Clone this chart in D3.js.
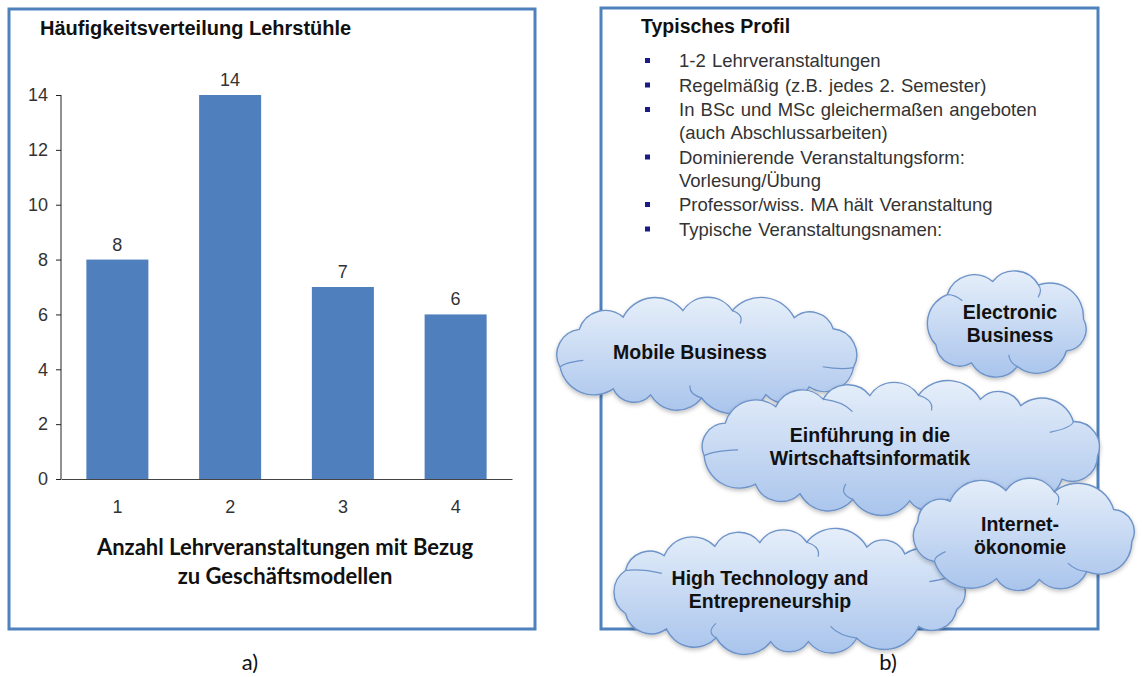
<!DOCTYPE html>
<html>
<head>
<meta charset="utf-8">
<script src="https://cdn.jsdelivr.net/npm/d3@7"></script>
<style>
  body { margin: 0; background: #fff; }
  text { font-family: Arial, "Liberation Sans", sans-serif; }
</style>
</head>
<body>
<div id="chart"></div>
<script>
// data
const categories = ["1", "2", "3", "4"];
const counts = [8, 14, 7, 6];
const yTicks = [0, 2, 4, 6, 8, 10, 12, 14];
const chartTitle = "Häufigkeitsverteilung Lehrstühle";
const xTitleLines = ["Anzahl Lehrveranstaltungen mit Bezug", "zu Geschäftsmodellen"];
const profileTitle = "Typisches Profil";
const profileItems = [
  ["1-2 Lehrveranstaltungen"],
  ["Regelmäßig (z.B.  jedes 2. Semester)"],
  ["In BSc und MSc gleichermaßen angeboten", "(auch Abschlussarbeiten)"],
  ["Dominierende Veranstaltungsform:", "Vorlesung/Übung"],
  ["Professor/wiss. MA hält Veranstaltung"],
  ["Typische Veranstaltungsnamen:"]
];
const courseNames = [
  ["Mobile Business"],
  ["Electronic", "Business"],
  ["Einführung in die", "Wirtschaftsinformatik"],
  ["High Technology and", "Entrepreneurship"],
  ["Internet-", "ökonomie"]
];
const panelLabels = ["a)", "b)"];

// layout of the clouds (ellipse under the bumps + text centre)
const cloudLayout = [
  { cx: 707, cy: 354, rx: 154, ry: 44, tx: 690, ty: 352 },
  { cx: 1005, cy: 324, rx: 79, ry: 43, tx: 1010, ty: 323 },
  { cx: 901, cy: 448, rx: 199, ry: 53, tx: 870, ty: 446 },
  { cx: 788, cy: 592, rx: 180, ry: 50, tx: 770, ty: 589 },
  { cx: 1023, cy: 535, rx: 110, ry: 45, tx: 1020, ty: 535 }
];

const W = 1142, H = 677;
const blue = "#4f81bd";

const svg = d3.select("#chart").append("svg")
  .attr("width", W).attr("height", H);

const defs = svg.append("defs");
const grad = defs.append("linearGradient").attr("id", "cloudFill")
  .attr("x1", 0).attr("y1", 0).attr("x2", 0).attr("y2", 1);
grad.append("stop").attr("offset", "0%").attr("stop-color", "#e6effa");
grad.append("stop").attr("offset", "100%").attr("stop-color", "#a9c4ec");
const shadow = defs.append("filter").attr("id", "shadow")
  .attr("x", "-10%").attr("y", "-10%").attr("width", "120%").attr("height", "130%");
shadow.append("feDropShadow").attr("dx", 0).attr("dy", 2)
  .attr("stdDeviation", 2).attr("flood-color", "#000").attr("flood-opacity", 0.25);

// ---------- panel a) ----------
svg.append("rect").attr("x", 9).attr("y", 9).attr("width", 526).attr("height", 620)
  .attr("fill", "none").attr("stroke", blue).attr("stroke-width", 3);

svg.append("text").attr("x", 40).attr("y", 35)
  .style("font-size", "20px").style("font-weight", "bold").attr("fill", "#111")
  .text(chartTitle);

const x = d3.scaleBand().domain(categories).range([61, 512])
  .paddingInner(0.45).paddingOuter(0.225);
const y = d3.scaleLinear().domain([0, 14]).range([479, 95]);

svg.append("g").selectAll("rect")
  .data(counts)
  .join("rect")
  .attr("x", (d, i) => x(categories[i]))
  .attr("y", d => y(d))
  .attr("width", x.bandwidth())
  .attr("height", d => y(0) - y(d))
  .attr("fill", "#4f7fbd");

svg.append("g").selectAll("text")
  .data(counts)
  .join("text")
  .attr("x", (d, i) => x(categories[i]) + x.bandwidth() / 2)
  .attr("y", d => y(d) - 9)
  .attr("text-anchor", "middle")
  .style("font-size", "18px").attr("fill", "#333")
  .text(d => d);

const yAxis = svg.append("g").attr("transform", "translate(61,0)")
  .call(d3.axisLeft(y).tickValues(yTicks).tickSize(5).tickPadding(8));
yAxis.select(".domain").attr("stroke", "#222").attr("d", `M0,${y(14)}V${y(0)}`);
yAxis.selectAll(".tick line").attr("stroke", "#222");
yAxis.selectAll(".tick text").style("font-size", "18px")
  .style("font-family", "Arial, 'Liberation Sans', sans-serif").attr("fill", "#333");

const xAxis = svg.append("g").attr("transform", `translate(0,${y(0)})`)
  .call(d3.axisBottom(x).tickSize(0).tickPadding(21));
xAxis.select(".domain").attr("stroke", "#444");
xAxis.selectAll(".tick text").style("font-size", "18px")
  .style("font-family", "Arial, 'Liberation Sans', sans-serif").attr("fill", "#333");

svg.append("g").selectAll("text")
  .data(xTitleLines)
  .join("text")
  .attr("x", 285)
  .attr("y", (d, i) => 555 + i * 29)
  .attr("text-anchor", "middle")
  .style("font-family", "Lato, 'Open Sans', sans-serif")
  .style("font-size", "22px").style("font-weight", "bold").attr("fill", "#111")
  .text(d => d);

// ---------- panel b) ----------
svg.append("rect").attr("x", 601).attr("y", 8).attr("width", 497).attr("height", 621)
  .attr("fill", "none").attr("stroke", blue).attr("stroke-width", 3);

svg.append("text").attr("x", 641).attr("y", 33)
  .style("font-size", "19.5px").style("font-weight", "bold").attr("fill", "#111")
  .text(profileTitle);

// bullet list
let yLine = 67;
const lines = [];
profileItems.forEach(item => {
  item.forEach((t, j) => {
    lines.push({ text: t, y: yLine, first: j === 0 });
    yLine += 23;
  });
  yLine += 1.5;
});
const list = svg.append("g");
list.selectAll("rect")
  .data(lines.filter(d => d.first))
  .join("rect")
  .attr("x", 645).attr("y", d => d.y - 9)
  .attr("width", 5).attr("height", 5)
  .attr("fill", "#1b1b86");
list.selectAll("text")
  .data(lines)
  .join("text")
  .attr("x", 679).attr("y", d => d.y)
  .style("font-size", "18.5px").style("word-spacing", "1px").attr("fill", "#333")
  .text(d => d.text);

// cloud outline: bumps spread along the ellipse by arc length
const bumpWeights = [1, 1.3, 0.85, 1.15, 1, 0.9, 1.35, 1.05, 0.8, 1.2, 1.1, 0.95, 1.25, 0.9, 1.1, 1];
function ellipsePoints(c) {
  const n = 720, pts = [], len = [0];
  for (let k = 0; k <= n; k++) {
    const a = -Math.PI * 0.55 + (k / n) * 2 * Math.PI;
    pts.push([c.cx + c.rx * Math.cos(a), c.cy + c.ry * Math.sin(a), a]);
    if (k > 0) len.push(len[k - 1] + Math.hypot(pts[k][0] - pts[k - 1][0], pts[k][1] - pts[k - 1][1]));
  }
  return { pts, len };
}
function bumpPoints(c) {
  const { pts, len } = ellipsePoints(c);
  const total = len[len.length - 1];
  const count = Math.max(8, Math.round(total / 50));
  const w = d3.range(count).map(i => bumpWeights[i % bumpWeights.length]);
  const sum = d3.sum(w);
  const out = [];
  let acc = 0;
  for (let i = 0; i < count; i++) {
    const target = (acc / sum) * total;
    const k = Math.min(pts.length - 1, d3.bisectLeft(len, target));
    out.push(pts[k]);
    acc += w[i];
  }
  return out;
}
function cloudPath(c) {
  const p = bumpPoints(c);
  let s = `M${p[0][0]},${p[0][1]}`;
  for (let i = 0; i < p.length; i++) {
    const a = p[i], b = p[(i + 1) % p.length];
    const r = Math.hypot(b[0] - a[0], b[1] - a[1]) * 0.6;
    s += `A${r},${r} 0 0 1 ${b[0]},${b[1]}`;
  }
  return s + "Z";
}
function creasePath(c) {
  const p = bumpPoints(c);
  let s = "";
  p.forEach((q, i) => {
    if (i % 3 !== 1) return;
    const a = q[2];
    const x1 = c.cx + c.rx * 0.82 * Math.cos(a + 0.1), y1 = c.cy + c.ry * 0.72 * Math.sin(a + 0.1);
    const qx = c.cx + c.rx * 0.95 * Math.cos(a + 0.09), qy = c.cy + c.ry * 0.92 * Math.sin(a + 0.09);
    s += `M${q[0]},${q[1]}Q${qx},${qy} ${x1},${y1}`;
  });
  return s;
}

const clouds = svg.append("g").selectAll("g")
  .data(courseNames)
  .join("g");
clouds.append("path")
  .attr("d", (d, i) => cloudPath(cloudLayout[i]))
  .attr("fill", "url(#cloudFill)")
  .attr("stroke", "#6d93c9").attr("stroke-width", 1.4)
  .attr("filter", "url(#shadow)");
clouds.append("path")
  .attr("d", (d, i) => creasePath(cloudLayout[i]))
  .attr("fill", "none")
  .attr("stroke", "#6d93c9").attr("stroke-width", 1.2);
clouds.each(function (d, i) {
  const c = cloudLayout[i];
  const n = d.length;
  d3.select(this).selectAll("text")
    .data(d)
    .join("text")
    .attr("x", c.tx)
    .attr("y", (t, j) => c.ty + 7 + (j - (n - 1) / 2) * 23)
    .attr("text-anchor", "middle")
    .style("font-size", "19.5px").style("font-weight", "bold").attr("fill", "#111")
    .text(t => t);
});

// panel captions
svg.append("g").selectAll("text")
  .data(panelLabels)
  .join("text")
  .attr("x", (d, i) => [250, 888][i])
  .attr("y", 670)
  .attr("text-anchor", "middle")
  .style("font-family", "Lato, 'Open Sans', sans-serif")
  .style("font-size", "22px").attr("fill", "#111")
  .text(d => d);
</script>
</body>
</html>
